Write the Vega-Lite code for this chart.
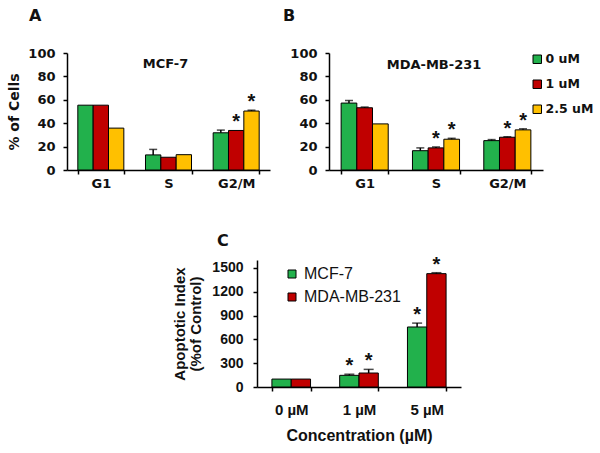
{
  "$schema": "https://vega.github.io/schema/vega-lite/v6.json",
  "padding": {"top": 8, "left": 7, "right": 4, "bottom": 4},
  "background": "white",
  "config": {
    "view": {"stroke": null},
    "font": "Liberation Sans",
    "axis": {
      "domainColor": "black", "domainWidth": 1.5, "tickColor": "black", "tickWidth": 1.5, "tickSize": 4,
      "labelColor": "#111", "titleColor": "#111", "labelFont": "DejaVu Sans", "labelFontWeight": "bold",
      "labelFontSize": 13, "titleFont": "DejaVu Sans", "titleFontWeight": "bold", "titleFontSize": 14, "grid": false,
      "labelOverlap": false
    },
    "axisX": {"labelAngle": 0, "labelPadding": 3, "tickBand": "extent"},
    "axisY": {"labelPadding": 8, "titlePadding": 6, "labelOverlap": false, "tickCount": 12}
  },
  "datasets": {
    "A": [
      {"phase": "G1", "dose": "0 uM", "value": 55.4, "hi": 55.4, "sig": ""},
      {"phase": "G1", "dose": "1 uM", "value": 55.4, "hi": 55.4, "sig": ""},
      {"phase": "G1", "dose": "2.5 uM", "value": 35.8, "hi": 35.8, "sig": ""},
      {"phase": "S", "dose": "0 uM", "value": 12.9, "hi": 17.6, "sig": ""},
      {"phase": "S", "dose": "1 uM", "value": 10.9, "hi": 10.9, "sig": ""},
      {"phase": "S", "dose": "2.5 uM", "value": 13.1, "hi": 13.1, "sig": ""},
      {"phase": "G2/M", "dose": "0 uM", "value": 31.8, "hi": 34.1, "sig": ""},
      {"phase": "G2/M", "dose": "1 uM", "value": 33.8, "hi": 33.8, "sig": "*"},
      {"phase": "G2/M", "dose": "2.5 uM", "value": 50.4, "hi": 51.1, "sig": "*"}
    ],
    "B": [
      {"phase": "G1", "dose": "0 uM", "value": 57.2, "hi": 59.4, "sig": ""},
      {"phase": "G1", "dose": "1 uM", "value": 53.2, "hi": 53.8, "sig": ""},
      {"phase": "G1", "dose": "2.5 uM", "value": 39.4, "hi": 39.4, "sig": ""},
      {"phase": "S", "dose": "0 uM", "value": 16.5, "hi": 18.9, "sig": ""},
      {"phase": "S", "dose": "1 uM", "value": 18.9, "hi": 19.7, "sig": "*"},
      {"phase": "S", "dose": "2.5 uM", "value": 26.3, "hi": 27.1, "sig": "*"},
      {"phase": "G2/M", "dose": "0 uM", "value": 25.1, "hi": 26.0, "sig": ""},
      {"phase": "G2/M", "dose": "1 uM", "value": 28.0, "hi": 28.4, "sig": "*"},
      {"phase": "G2/M", "dose": "2.5 uM", "value": 34.3, "hi": 35.2, "sig": "*"}
    ],
    "C": [
      {"conc": "0 µM", "line": "MCF-7", "value": 100, "hi": 100, "sig": ""},
      {"conc": "0 µM", "line": "MDA-MB-231", "value": 100, "hi": 100, "sig": ""},
      {"conc": "1 µM", "line": "MCF-7", "value": 147, "hi": 161, "sig": "*"},
      {"conc": "1 µM", "line": "MDA-MB-231", "value": 176, "hi": 222, "sig": "*"},
      {"conc": "5 µM", "line": "MCF-7", "value": 756, "hi": 805, "sig": "*"},
      {"conc": "5 µM", "line": "MDA-MB-231", "value": 1428, "hi": 1440, "sig": "*"}
    ]
  },
  "resolve": {
    "scale": {"x": "independent", "y": "independent", "xOffset": "independent", "color": "independent"},
    "axis": {"x": "independent", "y": "independent"},
    "legend": {"color": "independent"}
  },
  "vconcat": [
    {
      "resolve": {
        "scale": {"x": "independent", "y": "independent", "xOffset": "independent", "color": "independent"},
        "axis": {"x": "independent", "y": "independent"},
        "legend": {"color": "independent"}
      },
      "hconcat": [
        {
          "width": 203, "height": 117,
          "data": {"name": "A"},
          "title": {"text": "A", "anchor": "start", "frame": "group", "dx": -38, "offset": 23, "fontSize": 16, "font": "DejaVu Sans", "fontWeight": "bold", "color": "#111"},
          "layer": [
            {
              "mark": {"type": "bar", "stroke": "black", "strokeWidth": 1},
              "encoding": {
                "x": {"field": "phase", "type": "nominal", "sort": ["G1", "S", "G2/M"], "scale": {"paddingInner": 0.32, "paddingOuter": 0.16}, "axis": {"title": null}},
                "xOffset": {"field": "dose", "type": "nominal", "sort": ["0 uM", "1 uM", "2.5 uM"]},
                "y": {"field": "value", "type": "quantitative", "scale": {"domain": [0, 100]}, "axis": {"values": [0, 20, 40, 60, 80, 100], "tickCount": 12, "labelOverlap": false, "title": "% of Cells"}},
                "color": {"field": "dose", "type": "nominal", "scale": {"domain": ["0 uM", "1 uM", "2.5 uM"], "range": ["#22b14c", "#c00000", "#ffc000"]}, "legend": null}
              }
            },
            {
              "transform": [{"filter": "datum.hi > datum.value"}],
              "mark": {"type": "rule", "color": "black", "strokeWidth": 1.5},
              "encoding": {
                "x": {"field": "phase", "type": "nominal", "sort": ["G1", "S", "G2/M"]},
                "xOffset": {"field": "dose", "type": "nominal", "sort": ["0 uM", "1 uM", "2.5 uM"]},
                "y": {"field": "value", "type": "quantitative"},
                "y2": {"field": "hi"}
              }
            },
            {
              "transform": [{"filter": "datum.hi > datum.value"}],
              "mark": {"type": "tick", "orient": "horizontal", "size": 8, "thickness": 1.5, "color": "black"},
              "encoding": {
                "x": {"field": "phase", "type": "nominal", "sort": ["G1", "S", "G2/M"]},
                "xOffset": {"field": "dose", "type": "nominal", "sort": ["0 uM", "1 uM", "2.5 uM"]},
                "y": {"field": "hi", "type": "quantitative"}
              }
            },
            {
              "mark": {"type": "text", "font": "Liberation Sans", "fontWeight": "bold", "fontSize": 20, "baseline": "middle", "dy": -8, "color": "#111"},
              "encoding": {
                "x": {"field": "phase", "type": "nominal", "sort": ["G1", "S", "G2/M"]},
                "xOffset": {"field": "dose", "type": "nominal", "sort": ["0 uM", "1 uM", "2.5 uM"]},
                "y": {"field": "hi", "type": "quantitative"},
                "text": {"field": "sig"}
              }
            },
            {
              "data": {"values": [{}]},
              "mark": {"type": "text", "font": "DejaVu Sans", "fontWeight": "bold", "fontSize": 13, "dx": -3, "color": "#111"},
              "encoding": {
                "x": {"datum": "S", "type": "nominal"},
                "y": {"datum": 91, "type": "quantitative"},
                "text": {"value": "MCF-7"}
              }
            }
          ]
        },
        {
          "width": 214, "height": 117,
          "data": {"name": "B"},
          "title": {"text": "B", "anchor": "start", "frame": "group", "dx": -46, "offset": 23, "fontSize": 16, "font": "DejaVu Sans", "fontWeight": "bold", "color": "#111"},
          "layer": [
            {
              "mark": {"type": "bar", "stroke": "black", "strokeWidth": 1},
              "encoding": {
                "x": {"field": "phase", "type": "nominal", "sort": ["G1", "S", "G2/M"], "scale": {"paddingInner": 0.34, "paddingOuter": 0.17}, "axis": {"title": null}},
                "xOffset": {"field": "dose", "type": "nominal", "sort": ["0 uM", "1 uM", "2.5 uM"]},
                "y": {"field": "value", "type": "quantitative", "scale": {"domain": [0, 100]}, "axis": {"values": [0, 20, 40, 60, 80, 100], "tickCount": 12, "labelOverlap": false, "title": null}},
                "color": {"field": "dose", "type": "nominal", "scale": {"domain": ["0 uM", "1 uM", "2.5 uM"], "range": ["#22b14c", "#c00000", "#ffc000"]},
                  "legend": {"title": null, "orient": "right", "offset": -12, "padding": 0, "symbolType": "square", "symbolSize": 72, "symbolStrokeColor": "black", "symbolStrokeWidth": 1, "labelFont": "DejaVu Sans", "labelFontSize": 12.5, "labelFontWeight": "bold", "labelColor": "#111", "labelOffset": 2, "rowPadding": 12}}
              }
            },
            {
              "transform": [{"filter": "datum.hi > datum.value"}],
              "mark": {"type": "rule", "color": "black", "strokeWidth": 1.5},
              "encoding": {
                "x": {"field": "phase", "type": "nominal", "sort": ["G1", "S", "G2/M"]},
                "xOffset": {"field": "dose", "type": "nominal", "sort": ["0 uM", "1 uM", "2.5 uM"]},
                "y": {"field": "value", "type": "quantitative"},
                "y2": {"field": "hi"}
              }
            },
            {
              "transform": [{"filter": "datum.hi > datum.value"}],
              "mark": {"type": "tick", "orient": "horizontal", "size": 8, "thickness": 1.5, "color": "black"},
              "encoding": {
                "x": {"field": "phase", "type": "nominal", "sort": ["G1", "S", "G2/M"]},
                "xOffset": {"field": "dose", "type": "nominal", "sort": ["0 uM", "1 uM", "2.5 uM"]},
                "y": {"field": "hi", "type": "quantitative"}
              }
            },
            {
              "mark": {"type": "text", "font": "Liberation Sans", "fontWeight": "bold", "fontSize": 20, "baseline": "middle", "dy": -8, "color": "#111"},
              "encoding": {
                "x": {"field": "phase", "type": "nominal", "sort": ["G1", "S", "G2/M"]},
                "xOffset": {"field": "dose", "type": "nominal", "sort": ["0 uM", "1 uM", "2.5 uM"]},
                "y": {"field": "hi", "type": "quantitative"},
                "text": {"field": "sig"}
              }
            },
            {
              "data": {"values": [{}]},
              "mark": {"type": "text", "font": "DejaVu Sans", "fontWeight": "bold", "fontSize": 13, "dx": -2, "color": "#111"},
              "encoding": {
                "x": {"datum": "S", "type": "nominal"},
                "y": {"datum": 90, "type": "quantitative"},
                "text": {"value": "MDA-MB-231"}
              }
            }
          ]
        }
      ],
      "spacing": 13
    },
    {
      "resolve": {
        "scale": {"x": "independent", "y": "independent", "color": "independent"},
        "axis": {"x": "independent", "y": "independent"},
        "legend": {"color": "independent"}
      },
      "hconcat": [
        {"width": 105, "height": 10, "data": {"values": [{}]}, "mark": {"type": "point", "opacity": 0}},
        {
          "width": 204, "height": 127,
          "data": {"name": "C"},
          "title": {"text": "C", "anchor": "start", "frame": "group", "dx": -40, "offset": 6, "fontSize": 16, "font": "DejaVu Sans", "fontWeight": "bold", "color": "#111"},
          "layer": [
            {
              "mark": {"type": "bar", "stroke": "black", "strokeWidth": 1},
              "encoding": {
                "x": {"field": "conc", "type": "nominal", "sort": ["0 µM", "1 µM", "5 µM"], "scale": {"paddingInner": 0.43, "paddingOuter": 0.22},
                  "axis": {"title": "Concentration (µM)", "labelFont": "Liberation Sans", "labelFontSize": 15, "titleFont": "Liberation Sans", "titleFontSize": 16, "labelPadding": 11, "titlePadding": 10}},
                "xOffset": {"field": "line", "type": "nominal", "sort": ["MCF-7", "MDA-MB-231"]},
                "y": {"field": "value", "type": "quantitative", "scale": {"domain": [0, 1500]},
                  "axis": {"values": [0, 300, 600, 900, 1200, 1500], "tickCount": 12, "labelOverlap": false, "format": "d", "title": ["Apoptotic Index", "(%of Control)"], "labelFont": "Liberation Sans", "labelFontSize": 14, "titleFont": "Liberation Sans", "titleFontSize": 15, "labelPadding": 10, "titlePadding": 8, "titleLineHeight": 16}},
                "color": {"field": "line", "type": "nominal", "scale": {"domain": ["MCF-7", "MDA-MB-231"], "range": ["#22b14c", "#c00000"]},
                  "legend": {"title": null, "orient": "none", "legendX": 27, "legendY": 6, "padding": 0, "symbolType": "square", "symbolSize": 64, "symbolStrokeColor": "black", "symbolStrokeWidth": 1, "labelFont": "Liberation Sans", "labelFontSize": 16, "labelFontWeight": "normal", "labelColor": "#111", "labelOffset": 4, "rowPadding": 7}}
              }
            },
            {
              "transform": [{"filter": "datum.hi > datum.value"}],
              "mark": {"type": "rule", "color": "black", "strokeWidth": 1.5},
              "encoding": {
                "x": {"field": "conc", "type": "nominal", "sort": ["0 µM", "1 µM", "5 µM"]},
                "xOffset": {"field": "line", "type": "nominal", "sort": ["MCF-7", "MDA-MB-231"]},
                "y": {"field": "value", "type": "quantitative"},
                "y2": {"field": "hi"}
              }
            },
            {
              "transform": [{"filter": "datum.hi > datum.value"}],
              "mark": {"type": "tick", "orient": "horizontal", "size": 10, "thickness": 1.5, "color": "black"},
              "encoding": {
                "x": {"field": "conc", "type": "nominal", "sort": ["0 µM", "1 µM", "5 µM"]},
                "xOffset": {"field": "line", "type": "nominal", "sort": ["MCF-7", "MDA-MB-231"]},
                "y": {"field": "hi", "type": "quantitative"}
              }
            },
            {
              "mark": {"type": "text", "font": "Liberation Sans", "fontWeight": "bold", "fontSize": 20, "baseline": "middle", "dy": -8, "color": "#111"},
              "encoding": {
                "x": {"field": "conc", "type": "nominal", "sort": ["0 µM", "1 µM", "5 µM"]},
                "xOffset": {"field": "line", "type": "nominal", "sort": ["MCF-7", "MDA-MB-231"]},
                "y": {"field": "hi", "type": "quantitative"},
                "text": {"field": "sig"}
              }
            }
          ]
        }
      ],
      "spacing": 0
    }
  ],
  "spacing": 42
}
